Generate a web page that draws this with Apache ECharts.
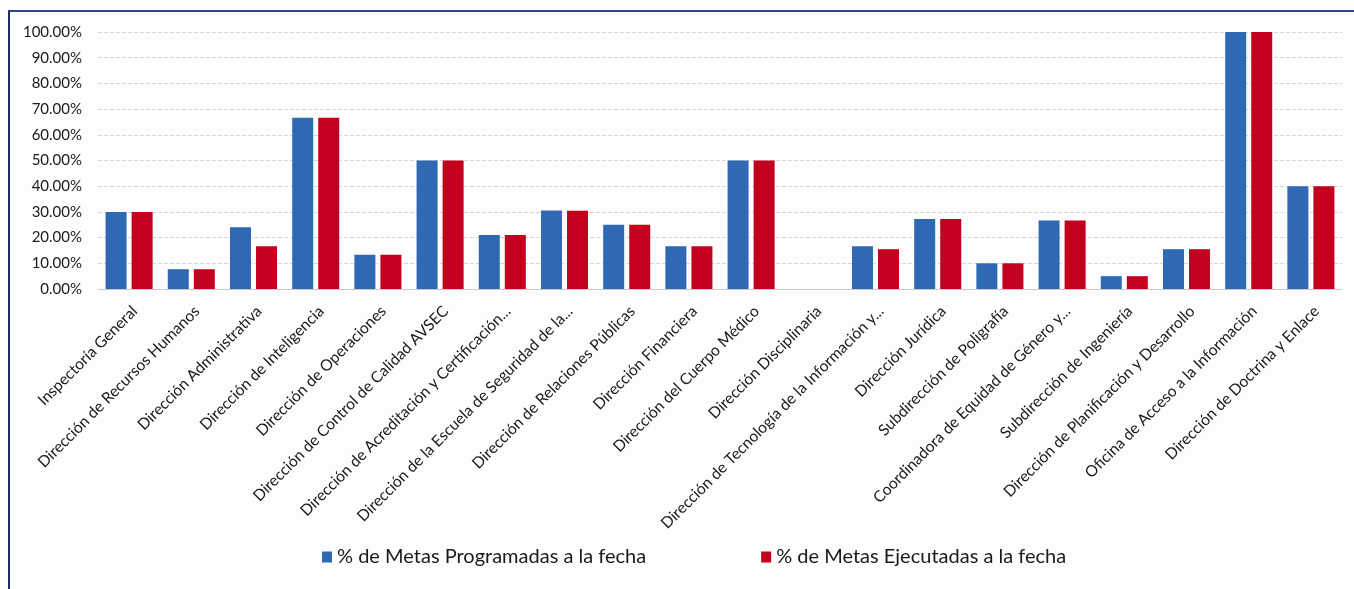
<!DOCTYPE html>
<html>
<head>
<meta charset="utf-8">
<script src="https://cdn.jsdelivr.net/npm/echarts@6/dist/echarts.min.js"></script>
<style>
html,body{margin:0;padding:0;background:#fdfdfd;}
#chart{width:1354px;height:589px;}
</style>
</head>
<body>
<div id="chart"></div>
<script>
var categories = [
  "Inspectoría General",
  "Dirección de Recursos Humanos",
  "Dirección Administrativa",
  "Dirección de Inteligencia",
  "Dirección de Operaciones",
  "Dirección de Control de Calidad AVSEC",
  "Dirección de Acreditación y Certificación...",
  "Dirección de la Escuela de Seguridad de la...",
  "Dirección de Relaciones Públicas",
  "Dirección Financiera",
  "Dirección del Cuerpo Médico",
  "Dirección Disciplinaria",
  "Dirección de Tecnología de la Información y...",
  "Dirección Jurídica",
  "Subdirección de Poligrafía",
  "Coordinadora de Equidad de Género y...",
  "Subdirección de Ingeniería",
  "Dirección de Planificación y Desarrollo",
  "Oficina de Acceso a la Información",
  "Dirección de Doctrina y Enlace"
];
var seriesNames = ["% de Metas Programadas a la fecha", "% de Metas Ejecutadas a la fecha"];
var programadas = [30, 7.69, 24, 66.67, 13.33, 50, 21, 30.5, 25, 16.67, 50, 0, 16.67, 27.27, 10, 26.67, 5, 15.5, 100, 40];
var ejecutadas  = [30, 7.69, 16.67, 66.67, 13.33, 50, 21, 30.4, 25, 16.67, 50, 0, 15.5, 27.27, 10, 26.67, 5, 15.5, 100, 40];
var yTicks = {min: 0, max: 100, interval: 10};

var chart = echarts.init(document.getElementById('chart'));
var font = 'Lato';
chart.setOption({
  backgroundColor: '#fdfdfd',
  animation: false,
  textStyle: {fontFamily: font},
  grid: {left: 98, right: 12, top: 32, bottom: 300, containLabel: false},
  legend: {
    left: 322, top: 547, padding: 0,
    itemWidth: 10, itemHeight: 11, itemGap: 115,
    icon: 'rect',
    textStyle: {fontFamily: font, fontSize: 20, color: '#1a1a1a'},
    data: seriesNames
  },
  graphic: [
    {type: 'line', shape: {x1: 8, y1: 11, x2: 1354, y2: 11}, style: {stroke: '#2c4a86', lineWidth: 2}},
    {type: 'line', shape: {x1: 9, y1: 11, x2: 9, y2: 589}, style: {stroke: '#1c2f5e', lineWidth: 2}}
  ],
  xAxis: {
    type: 'category',
    data: categories,
    axisLine: {lineStyle: {color: '#c8c8c8'}},
    axisTick: {show: false},
    axisLabel: {interval: 0, rotate: 45, fontFamily: font, fontSize: 15.6, color: '#1a1a1a',
      margin: 14, verticalAlign: 'top'}
  },
  yAxis: {
    type: 'value',
    min: yTicks.min, max: yTicks.max, interval: yTicks.interval,
    axisLine: {show: false},
    axisTick: {show: false},
    splitLine: {lineStyle: {color: '#d6d6d6', type: 'dashed', width: 1}},
    axisLabel: {fontFamily: font, fontSize: 15, color: '#1a1a1a', margin: 16,
      formatter: function (v) { return v.toFixed(2) + '%'; }}
  },
  series: [
    {name: seriesNames[0], type: 'bar', data: programadas, barWidth: 21, barGap: '24%',
      itemStyle: {color: '#2f69b4'}},
    {name: seriesNames[1], type: 'bar', data: ejecutadas, barWidth: 21,
      itemStyle: {color: '#c4001f'}}
  ]
});
</script>
</body>
</html>
